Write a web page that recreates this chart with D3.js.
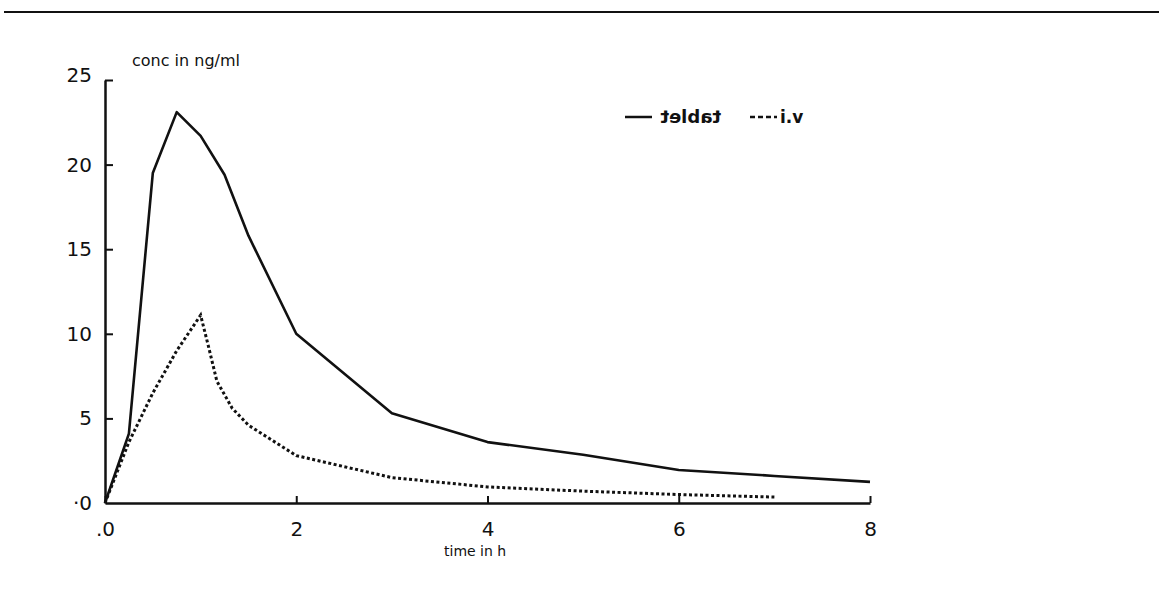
<!DOCTYPE html>
<html>
<head>
<meta charset="utf-8">
<script src="https://cdn.jsdelivr.net/npm/d3@7"></script>
<style>
  body { margin: 0; background: #fff; }
  svg { display: block; }
  text { font-family: "DejaVu Sans", sans-serif; fill: #111; }
</style>
</head>
<body>
<div id="chart"></div>
<script>
// concentration (ng/ml) vs time (h)
const tabletTime = [0, 0.25, 0.5, 0.75, 1, 1.25, 1.5, 2, 3, 4, 5, 6, 7, 8];
const tabletConc = [0, 4.1, 19.5, 23.1, 21.7, 19.4, 15.8, 10, 5.3, 3.6, 2.85, 1.95, 1.6, 1.25];
const ivTime = [0, 0.25, 0.5, 0.75, 1, 1.08, 1.17, 1.33, 1.5, 2, 3, 4, 5, 6, 7];
const ivConc = [0, 3.6, 6.5, 9, 11.1, 9.3, 7.2, 5.6, 4.6, 2.8, 1.5, 0.95, 0.7, 0.5, 0.35];
const xTicks = [0, 2, 4, 6, 8];
const xTickLabels = ['.0', '2', '4', '6', '8'];
const yTicks = [0, 5, 10, 15, 20, 25];
const yTickLabels = ['·0', '5', '10', '15', '20', '25'];

const width = 1159, height = 594;
const svg = d3.select('#chart').append('svg')
    .attr('width', width)
    .attr('height', height);

svg.append('rect').attr('width', width).attr('height', height).attr('fill', '#fff');

// rule across the top of the page
svg.append('line')
    .attr('x1', 4).attr('x2', width).attr('y1', 12).attr('y2', 12)
    .attr('stroke', '#111').attr('stroke-width', 2);

const x = d3.scaleLinear().domain([0, 8]).range([105, 870]);
const y = d3.scaleLinear().domain([0, 25]).range([503, 80]);

// axes, ticks pointing inward like the plotter drawing
const xAxis = d3.axisBottom(x).tickValues(xTicks).tickSize(-7)
    .tickFormat((d, i) => xTickLabels[i]).tickSizeOuter(0);
const gx = svg.append('g').attr('transform', `translate(0,${y(0)})`).call(xAxis);
gx.select('.domain').attr('stroke', '#111').attr('stroke-width', 2.5);
gx.selectAll('.tick line').attr('stroke', '#111').attr('stroke-width', 2);
gx.selectAll('.tick text').attr('font-size', 20).attr('y', 14).attr('dy', '0.95em')
    .style('font-family', '"DejaVu Sans", sans-serif');

const yAxis = d3.axisLeft(y).tickValues(yTicks).tickSize(-8)
    .tickFormat((d, i) => yTickLabels[i]).tickSizeOuter(0);
const gy = svg.append('g').attr('transform', `translate(${x(0)},0)`).call(yAxis);
gy.select('.domain').attr('stroke', '#111').attr('stroke-width', 2.5);
gy.selectAll('.tick line').attr('stroke', '#111').attr('stroke-width', 2);
gy.selectAll('.tick text').attr('font-size', 20).attr('x', -13)
    .style('font-family', '"DejaVu Sans", sans-serif');
gy.selectAll('.tick').filter(d => d === 0).select('line').remove();
gy.selectAll('.tick').filter(d => d === 25).select('text').attr('dy', '0.05em');

// axis titles
svg.append('text').attr('x', 132).attr('y', 66)
    .attr('font-size', 16).text('conc in ng/ml');
svg.append('text').attr('x', 444).attr('y', 556)
    .attr('font-size', 14).text('time in h');

const line = d3.line().x(d => x(d[0])).y(d => y(d[1]));
const tablet = tabletTime.map((t, i) => [t, tabletConc[i]]);
const iv = ivTime.map((t, i) => [t, ivConc[i]]);

svg.append('path').datum(tablet)
    .attr('d', line)
    .attr('fill', 'none').attr('stroke', '#111')
    .attr('stroke-width', 2.6).attr('stroke-linejoin', 'round');

svg.append('path').datum(iv)
    .attr('d', line)
    .attr('fill', 'none').attr('stroke', '#111')
    .attr('stroke-width', 3).attr('stroke-dasharray', '3,2.5');

// legend (the scan has "tablet" mirrored)
const lg = svg.append('g');
lg.append('line').attr('x1', 625).attr('x2', 652).attr('y1', 117).attr('y2', 117)
    .attr('stroke', '#111').attr('stroke-width', 2.5);
lg.append('text')
    .attr('transform', 'translate(721,123) scale(-1,1)')
    .attr('font-size', 18).attr('font-weight', 'bold').text('tablet');
lg.append('line').attr('x1', 750).attr('x2', 777).attr('y1', 117).attr('y2', 117)
    .attr('stroke', '#111').attr('stroke-width', 2.5).attr('stroke-dasharray', '5,3');
lg.append('text').attr('x', 780).attr('y', 123)
    .attr('font-size', 17).attr('font-weight', 'bold').text('i.v');
</script>
</body>
</html>
